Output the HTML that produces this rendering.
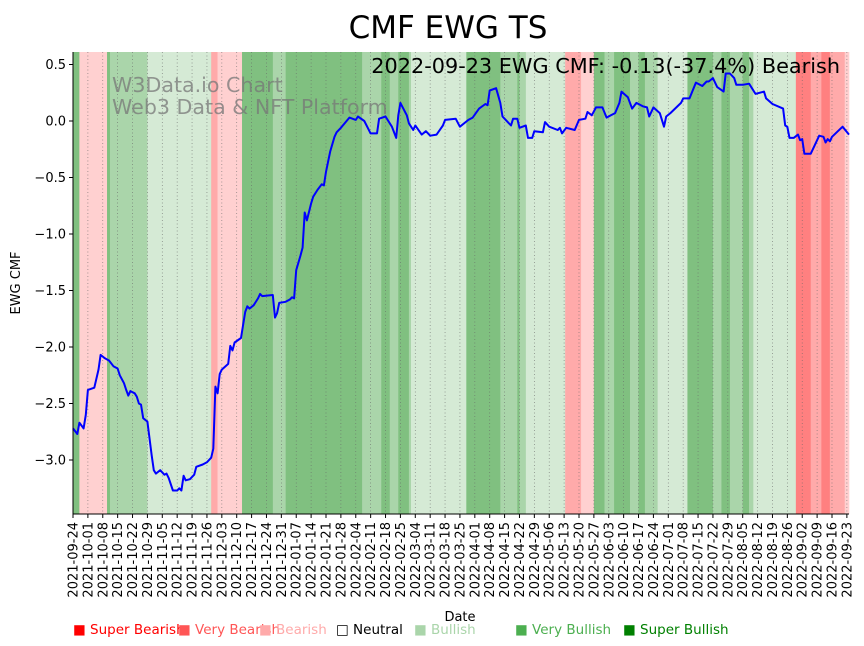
<!DOCTYPE html>
<html><head><meta charset="utf-8"><style>
body{margin:0;background:#fff;}
svg{display:block;font-family:"DejaVu Sans","Liberation Sans",sans-serif;}
</style></head><body>
<svg id="chart" width="864" height="646" xmlns="http://www.w3.org/2000/svg">
<text x="448" y="38" font-size="31" text-anchor="middle">CMF EWG TS</text>
<g id="bands"></g>
<g id="grid"></g>
<text x="112" y="92" font-size="20.6" fill="#777" fill-opacity="0.75">W3Data.io Chart</text>
<text x="112" y="114" font-size="20.6" fill="#777" fill-opacity="0.75">Web3 Data &amp; NFT Platform</text>
<g id="series"></g>
<text x="840" y="73" font-size="20.8" text-anchor="end">2022-09-23 EWG CMF: -0.13(-37.4%) Bearish</text>
<g id="axes"></g>
<text x="20" y="283" font-size="13" text-anchor="middle" transform="rotate(-90 20 283)">EWG CMF</text>
<text x="460" y="621" font-size="13" text-anchor="middle">Date</text>
<g id="legend" font-size="13.5"></g>
</svg>
<script>
const days=[0,2,3,5,6,7,10,12,13,15,17,19,21,22,24,25,26,27,29,30,31,32,33,35,37,38,39,41,43,44,45,47,49,50,51,52,53,55,57,58,61,63,65,66,67,68,69,70,73,74,75,76,79,81,82,83,85,87,88,89,94,95,96,97,100,102,103,104,105,107,108,109,110,112,113,115,117,118,119,121,123,124,126,130,133,134,137,140,143,144,147,150,152,153,154,157,158,160,161,164,166,168,171,174,175,180,182,186,188,191,194,195,196,199,201,202,206,207,209,210,213,214,216,217,221,222,224,228,229,230,232,236,238,241,242,244,246,249,251,253,255,257,258,261,263,265,268,270,271,273,276,278,279,281,286,287,290,293,296,298,299,301,303,306,307,309,311,312,315,318,321,325,326,329,334,335,336,337,339,341,342,343,344,347,349,351,353,354,355,356,357,362,365];
const cmf=[-2.72,-2.77,-2.67,-2.72,-2.60,-2.38,-2.36,-2.20,-2.07,-2.10,-2.12,-2.17,-2.19,-2.25,-2.32,-2.38,-2.43,-2.39,-2.41,-2.44,-2.50,-2.51,-2.63,-2.66,-2.96,-3.09,-3.12,-3.09,-3.13,-3.12,-3.16,-3.27,-3.27,-3.25,-3.27,-3.14,-3.18,-3.17,-3.13,-3.06,-3.04,-3.02,-2.98,-2.90,-2.35,-2.41,-2.24,-2.20,-2.15,-1.99,-2.03,-1.96,-1.92,-1.69,-1.64,-1.66,-1.63,-1.57,-1.53,-1.55,-1.54,-1.74,-1.70,-1.61,-1.60,-1.58,-1.56,-1.57,-1.32,-1.19,-1.12,-0.81,-0.88,-0.73,-0.67,-0.61,-0.56,-0.57,-0.45,-0.27,-0.14,-0.10,-0.06,0.03,0.01,0.04,0.00,-0.11,-0.11,0.02,0.04,-0.05,-0.15,0.05,0.16,0.05,-0.02,-0.08,-0.04,-0.12,-0.09,-0.13,-0.12,-0.04,0.01,0.02,-0.05,0.01,0.03,0.11,0.15,0.14,0.27,0.29,0.16,0.04,-0.04,0.02,0.02,-0.06,-0.04,-0.15,-0.15,-0.09,-0.10,-0.01,-0.05,-0.08,-0.06,-0.11,-0.06,-0.08,0.01,0.02,0.08,0.05,0.12,0.12,0.03,0.05,0.07,0.16,0.26,0.21,0.11,0.16,0.13,0.12,0.04,0.12,0.07,-0.05,0.04,0.07,0.16,0.20,0.20,0.34,0.31,0.35,0.35,0.38,0.30,0.26,0.42,0.42,0.38,0.32,0.32,0.33,0.24,0.26,0.20,0.15,0.11,-0.04,-0.05,-0.15,-0.15,-0.12,-0.17,-0.16,-0.29,-0.29,-0.21,-0.13,-0.14,-0.19,-0.16,-0.18,-0.14,-0.05,-0.12];
const bandStart=[0,3,16,17.4,35,65,68,79.5,94,100,136,145,149,153,158,159,185,201,209,210,213,231.5,239,245,250,254.5,262,266,269,275,289,301,305,309,315,318,320,340,347,352,356,363];
const bandEnd=[3,16,17.4,35,65,68,79.5,94,100,136,145,149,153,158,159,185,201,209,210,213,231.5,239,245,250,254.5,262,266,269,275,289,301,305,309,315,318,320,340,347,352,356,363,365];
const bandLevel=[3,-1,3,2,1,-2,-1,3,2,3,2,3,2,3,2,1,3,2,3,2,1,-2,-1,3,2,3,2,3,2,1,3,2,3,2,3,2,1,-3,-2,-3,-2,-1];
const yTicks=[0.5,0.0,-0.5,-1.0,-1.5,-2.0,-2.5,-3.0];
const legendLabels=["Super Bearish","Very Bearish","Bearish","Neutral","Bullish","Very Bullish","Super Bullish"];
const legendColors=["#ff0000","#ff5555","#ffaaaa","#ffffff","#aad5aa","#4caf50","#008000"];
const legendX=[73,178,259,336,414,515,623];

const NS="http://www.w3.org/2000/svg";
const L=73,R=849,T=52,B=514,DAYS=365;
const START=Date.UTC(2021,8,24);
function xs(d){return L+(R-L)*d/DAYS;}
function ys(v){return 121-v*113;}
function mk(tag,attrs,parent){const e=document.createElementNS(NS,tag);for(const k in attrs)e.setAttribute(k,attrs[k]);parent.appendChild(e);return e;}
const colorFor={"3":"#80c080","2":"#aad5aa","1":"#d5ead5","-1":"#ffd0d0","-2":"#ffaaaa","-3":"#ff8080"};
const gB=document.getElementById('bands');
for(let i=0;i<bandStart.length;i++){
  const r=mk('rect',{x:xs(bandStart[i]),y:T,width:xs(bandEnd[i])-xs(bandStart[i])+0.3,height:B-T,fill:colorFor[bandLevel[i]]},gB);
  
  
}
const gG=document.getElementById('grid'),gA=document.getElementById('axes');
for(let w=0;w<=52;w++){
  const d=w*7,x=xs(d);
  const ln=mk('line',{x1:x,x2:x,y1:T,y2:B,stroke:'#666','stroke-width':0.7,'stroke-dasharray':'1,2.5','stroke-opacity':0.8},gG);
  
  
  mk('line',{x1:x,x2:x,y1:B,y2:B+4,stroke:'#000'},gA);
  const dt=new Date(START+d*86400000);
  const s=dt.toISOString().slice(0,10);
  const t=mk('text',{x:x+4.5,y:B+8,'font-size':13,'text-anchor':'end',transform:`rotate(-90 ${x+4.5} ${B+8})`},gA);
  t.textContent=s;
  
  
}
yTicks.forEach(v=>{
  const y=ys(v);
  mk('line',{x1:L-4,x2:L,y1:y,y2:y,stroke:'#000'},gA);
  const t=mk('text',{x:L-7,y:y+4.5,'font-size':13,'text-anchor':'end'},gA);
  t.textContent=v.toFixed(1).replace('-','\u2212');
  
  
});
mk('line',{x1:L,x2:L,y1:T,y2:B,stroke:'#000','stroke-width':1},gA);
mk('line',{x1:L,x2:R,y1:B,y2:B,stroke:'#000','stroke-width':1},gA);
const pts=days.map((d,i)=>xs(d).toFixed(1)+','+ys(cmf[i]).toFixed(1)).join(' ');
const pl=mk('polyline',{points:pts,fill:'none',stroke:'#0000ff','stroke-width':2,'stroke-linejoin':'round'},document.getElementById('series'));


const gL=document.getElementById('legend');
legendLabels.forEach((lab,i)=>{
  const x=legendX[i];
  const t=mk('text',{x:x,y:634,fill:i===3?'#000':legendColors[i]},gL);
  t.textContent=(i===3?'\u25A1 ':'\u25A0 ')+lab;
  
  
});
</script>
</body></html>
